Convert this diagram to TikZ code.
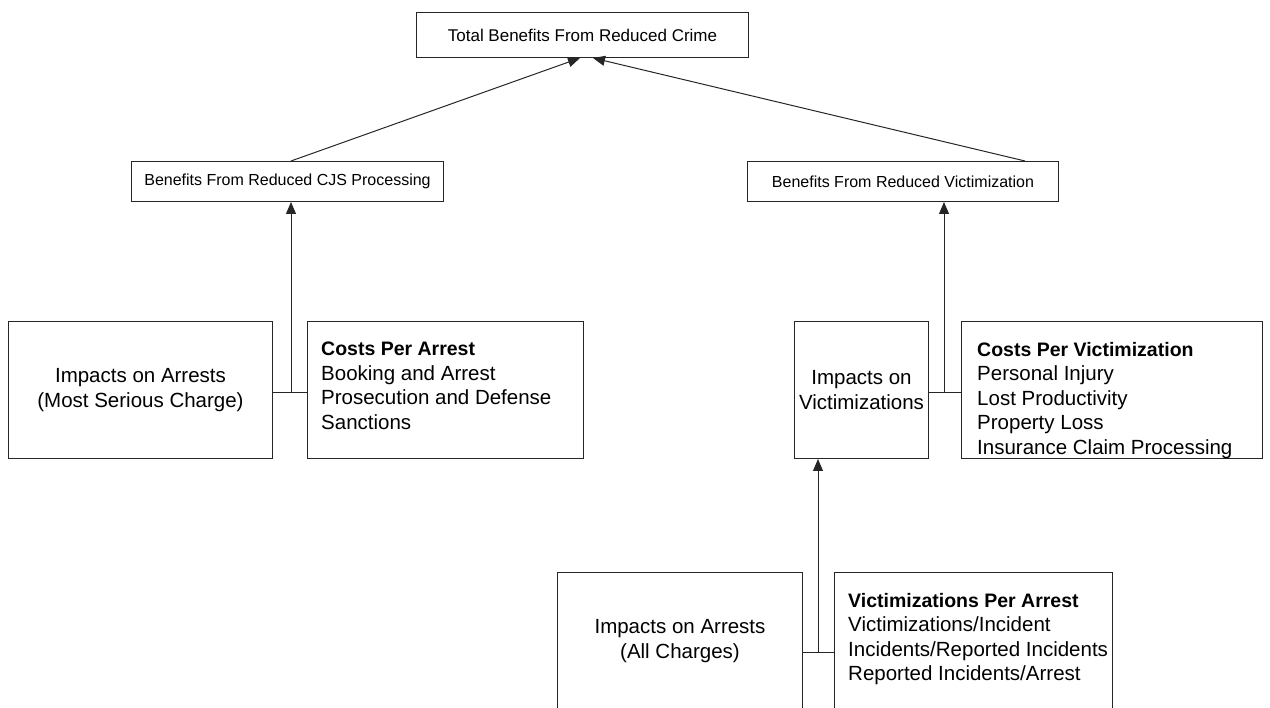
\documentclass[tikz,border=0pt]{standalone}
\usepackage{fontspec}
\setmainfont{Liberation Sans}
\usetikzlibrary{arrows.meta}
\newcommand\hdfont{\fontsize{19.5}{24.5}\selectfont\bfseries}
\begin{document}
\begin{tikzpicture}[x=1pt,y=-1pt,
  box/.style={draw=black!85, line width=1pt, rectangle, inner sep=0pt, anchor=north west},
  lnk/.style={draw=black!85, line width=1pt},
  arr/.style={lnk, -{Triangle[length=12pt,width=10pt]}},
  hdr/.style={font=\fontsize{17}{20}\selectfont},
  mid/.style={font=\fontsize{16}{19}\selectfont},
  txt/.style={font=\fontsize{20.5}{25}\selectfont, align=center},
  lst/.style={font=\fontsize{20.5}{24.5}\selectfont, align=left, anchor=north west, inner sep=0pt}]
\useasboundingbox (0,0) rectangle (1270,708);
% top level
\node[box, hdr, minimum width=332pt, minimum height=45pt] (top) at (416,12) {Total Benefits From Reduced Crime};
% second level
\node[box, mid, minimum width=312pt, minimum height=40pt] (cjs) at (131,161) {Benefits From Reduced CJS Processing};
\node[box, mid, minimum width=311pt, minimum height=40pt] (vic) at (747,161) {Benefits From Reduced Victimization};
% third level
\node[box, txt, minimum width=264pt, minimum height=137pt] (arrm) at (8,321) {Impacts on Arrests\\(Most Serious Charge)};
\node[box, minimum width=276pt, minimum height=137pt] (cpa) at (307,321) {};
\node[lst] (cpat) at ([xshift=14pt,yshift=-21pt]cpa.north west) {{\hdfont Costs Per Arrest}\\Booking and Arrest\\Prosecution and Defense\\Sanctions};
\node[box, txt, minimum width=134pt, minimum height=137pt] (imv) at (794,321) {Impacts on\\Victimizations};
\node[box, minimum width=301pt, minimum height=137pt] (cpv) at (961,321) {};
\node[lst] (cpvt) at ([xshift=16pt,yshift=-21pt]cpv.north west) {{\hdfont Costs Per Victimization}\\Personal Injury\\Lost Productivity\\Property Loss\\Insurance Claim Processing};
% bottom level
\node[box, txt, minimum width=245pt, minimum height=137pt] (arra) at (557,572) {Impacts on Arrests\\(All Charges)};
\node[box, minimum width=278pt, minimum height=137pt] (vpa) at (834,572) {};
\node[lst] (vpat) at ([xshift=14pt,yshift=-21pt]vpa.north west) {{\hdfont Victimizations Per Arrest}\\Victimizations/Incident\\Incidents/Reported Incidents\\Reported Incidents/Arrest};
% junction points
\coordinate (j1m) at (291,393);
\coordinate (j2m) at (944,393);
\coordinate (j3m) at (818,652);
% connectors
\draw[lnk] (arrm.east |- j1m) -- (cpa.west |- j1m);
\draw[arr] (j1m) -- (j1m |- cjs.south);
\draw[lnk] (imv.east |- j2m) -- (cpv.west |- j2m);
\draw[arr] (j2m) -- (j2m |- vic.south);
\draw[lnk] (arra.east |- j3m) -- (vpa.west |- j3m);
\draw[arr] (j3m) -- (j3m |- imv.south);
\draw[arr] (cjs.north -| 291,0) -- (top.south -| 580,0);
\draw[arr] (vic.north -| 1025,0) -- (top.south -| 593,0);
\end{tikzpicture}
\end{document}
